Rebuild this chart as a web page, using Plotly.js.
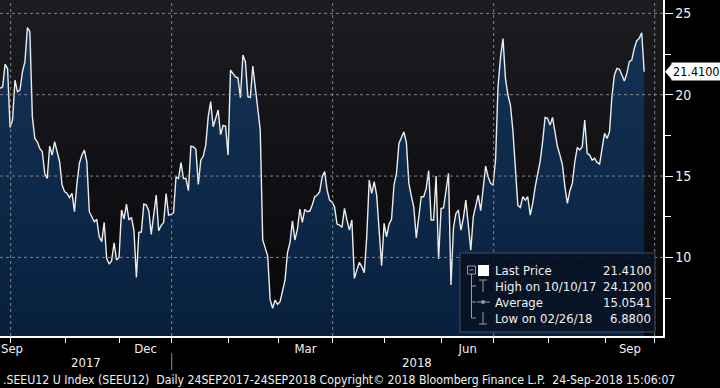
<!DOCTYPE html>
<html><head><meta charset="utf-8">
<script src="https://cdn.plot.ly/plotly-3.0.1.min.js"></script>
<style>html,body{margin:0;padding:0;background:#000;overflow:hidden}#chart{width:720px;height:388px}</style>
</head><body><div id="chart"></div>
<script>
// ---- data (trading days, weekday calendar) ----
const dates = [
'2017-09-25','2017-09-26','2017-09-27','2017-09-28','2017-09-29',
'2017-10-02','2017-10-03','2017-10-04','2017-10-05','2017-10-06',
'2017-10-09','2017-10-10','2017-10-11','2017-10-12','2017-10-13',
'2017-10-16','2017-10-17','2017-10-18','2017-10-19','2017-10-20',
'2017-10-23','2017-10-24','2017-10-25','2017-10-26','2017-10-27',
'2017-10-30','2017-10-31','2017-11-01','2017-11-02','2017-11-03',
'2017-11-06','2017-11-07','2017-11-08','2017-11-09','2017-11-10',
'2017-11-13','2017-11-14','2017-11-15','2017-11-16','2017-11-17',
'2017-11-20','2017-11-21','2017-11-22','2017-11-23','2017-11-24',
'2017-11-27','2017-11-28','2017-11-29','2017-11-30','2017-12-01',
'2017-12-04','2017-12-05','2017-12-06','2017-12-07','2017-12-08',
'2017-12-11','2017-12-12','2017-12-13','2017-12-14','2017-12-15',
'2017-12-18','2017-12-19','2017-12-20','2017-12-21','2017-12-22',
'2017-12-25','2017-12-26','2017-12-27','2017-12-28','2017-12-29',
'2018-01-01','2018-01-02','2018-01-03','2018-01-04','2018-01-05',
'2018-01-08','2018-01-09','2018-01-10','2018-01-11','2018-01-12',
'2018-01-15','2018-01-16','2018-01-17','2018-01-18','2018-01-19',
'2018-01-22','2018-01-23','2018-01-24','2018-01-25','2018-01-26',
'2018-01-29','2018-01-30','2018-01-31','2018-02-01','2018-02-02',
'2018-02-05','2018-02-06','2018-02-07','2018-02-08','2018-02-09',
'2018-02-12','2018-02-13','2018-02-14','2018-02-15','2018-02-16',
'2018-02-19','2018-02-20','2018-02-21','2018-02-22','2018-02-23',
'2018-02-26','2018-02-27','2018-02-28','2018-03-01','2018-03-02',
'2018-03-05','2018-03-06','2018-03-07','2018-03-08','2018-03-09',
'2018-03-12','2018-03-13','2018-03-14','2018-03-15','2018-03-16',
'2018-03-19','2018-03-20','2018-03-21','2018-03-22','2018-03-23',
'2018-03-26','2018-03-27','2018-03-28','2018-03-29','2018-03-30',
'2018-04-02','2018-04-03','2018-04-04','2018-04-05','2018-04-06',
'2018-04-09','2018-04-10','2018-04-11','2018-04-12','2018-04-13',
'2018-04-16','2018-04-17','2018-04-18','2018-04-19','2018-04-20',
'2018-04-23','2018-04-24','2018-04-25','2018-04-26','2018-04-27',
'2018-04-30','2018-05-01','2018-05-02','2018-05-03','2018-05-04',
'2018-05-07','2018-05-08','2018-05-09','2018-05-10','2018-05-11',
'2018-05-14','2018-05-15','2018-05-16','2018-05-17','2018-05-18',
'2018-05-21','2018-05-22','2018-05-23','2018-05-24','2018-05-25',
'2018-05-28','2018-05-29','2018-05-30','2018-05-31','2018-06-01',
'2018-06-04','2018-06-05','2018-06-06','2018-06-07','2018-06-08',
'2018-06-11','2018-06-12','2018-06-13','2018-06-14','2018-06-15',
'2018-06-18','2018-06-19','2018-06-20','2018-06-21','2018-06-22',
'2018-06-25','2018-06-26','2018-06-27','2018-06-28','2018-06-29',
'2018-07-02','2018-07-03','2018-07-04','2018-07-05','2018-07-06',
'2018-07-09','2018-07-10','2018-07-11','2018-07-12','2018-07-13',
'2018-07-16','2018-07-17','2018-07-18','2018-07-19','2018-07-20',
'2018-07-23','2018-07-24','2018-07-25','2018-07-26','2018-07-27',
'2018-07-30','2018-07-31','2018-08-01','2018-08-02','2018-08-03',
'2018-08-06','2018-08-07','2018-08-08','2018-08-09','2018-08-10',
'2018-08-13','2018-08-14','2018-08-15','2018-08-16','2018-08-17',
'2018-08-20','2018-08-21','2018-08-22','2018-08-23','2018-08-24',
'2018-08-27','2018-08-28','2018-08-29','2018-08-30','2018-08-31',
'2018-09-03','2018-09-04','2018-09-05','2018-09-06','2018-09-07',
'2018-09-10','2018-09-11','2018-09-12','2018-09-13','2018-09-14',
'2018-09-17','2018-09-18','2018-09-19','2018-09-20','2018-09-21',
'2018-09-24'
];
const prices = [
20.39,20.49,21.88,21.6,17.99,
18.44,20.9,20.18,20.29,21.41,
22.03,24.12,23.87,18.65,17.31,
17.11,16.7,16.5,15.16,14.86,
16.84,16.29,17.11,16.5,15.88,
14.45,14.04,13.93,13.67,13.93,
12.81,14.55,15.78,16.29,16.6,
15.88,12.81,12.5,12.19,12.34,
11.27,10.97,12.15,9.94,9.59,
9.8,10.9,9.84,10.0,12.91,
12.36,13.28,12.3,12.46,11.68,
8.77,11.54,11.56,13.28,13.22,
12.87,11.41,12.5,13.83,11.64,
11.97,12.15,13.93,12.6,12.64,
12.75,14.96,14.85,15.82,14.85,
14.85,14.1,16.84,16.8,16.64,
14.49,15.98,16.23,16.9,18.65,
19.57,18.03,18.5,19.06,17.55,
18.11,18.07,16.29,21.51,21.31,
21.1,21.04,19.81,22.44,22.03,
19.88,19.83,21.76,20.49,19.16,
17.83,11.07,10.5,10.1,7.4,
6.88,7.38,7.11,7.28,8.0,
8.6,10.3,10.9,12.25,11.07,
11.72,12.97,12.15,12.95,12.81,
12.85,13.22,13.73,13.83,14.04,
14.96,15.27,14.14,13.52,13.4,
13.11,12.05,11.99,11.85,13.01,
12.3,11.68,12.3,8.71,9.22,
9.69,9.43,9.06,11.27,14.75,
13.93,14.65,13.83,11.48,9.49,
12.09,11.27,12.05,12.34,14.45,
15.16,17.0,17.31,17.72,17.05,
14.55,13.77,13.07,11.2,12.3,
13.73,13.73,14.24,15.33,12.3,
12.3,15.0,9.9,13.0,13.05,
14.14,15.16,8.3,11.8,12.7,
12.91,11.68,12.4,13.52,12.09,
10.45,12.5,13.22,13.83,12.87,
14.34,15.61,14.96,14.55,14.45,
16.0,20.5,22.3,23.45,21.0,
19.98,19.36,17.8,15.78,13.2,
13.07,13.73,13.52,13.73,12.6,
13.32,14.34,15.16,15.9,17.11,
18.6,18.55,18.13,18.6,17.62,
16.8,16.29,15.68,14.34,13.32,
14.1,14.55,15.88,16.76,16.6,
16.8,18.44,16.39,16.29,15.98,
16.09,15.84,15.74,16.8,17.62,
17.31,17.72,19.92,21.21,21.62,
21.56,21.21,20.84,21.31,22.03,
22.13,22.85,23.32,23.46,23.81,
21.41
];
const yTicks = [10, 15, 20, 25];
const yMinorTicks = [7.5, 12.5, 17.5, 22.5];
const monthStarts = ['2017-10-02','2017-11-01','2017-12-01','2018-01-01','2018-02-01','2018-03-01','2018-04-02','2018-05-01','2018-06-01','2018-07-02','2018-08-01','2018-09-03','2018-10-01'];
const quarterStarts = ['2017-10-02','2018-01-01','2018-04-02','2018-07-02','2018-10-01'];
const monthLabelPos = ['2017-10-02 13:00','2017-12-15 12:00','2018-03-16','2018-06-15 12:00','2018-09-17'];
const monthLabels = ['Sep','Dec','Mar','Jun','Sep'];
const yearLabels = ['2017','2018'];
const yearBoundary = '2018-01-01';
const statLabels = ['Last Price','High on 10/10/17','Average','Low on 02/26/18'];
const statValues = [21.41, 24.12, 15.0541, 6.88];
const footer = '.SEEU12 U Index (SEEU12)\u00a0\u00a0Daily 24SEP2017-24SEP2018 Copyright\u00a9 2018 Bloomberg Finance L.P.\u00a0\u00a024-Sep-2018 15:06:07';

// ---- layout helpers (plot area is 663 x 336 px at top-left) ----
const PW = 663, PH = 336;
const px = x => x / PW;
const py = y => 1 - y / PH;
const F = 'DejaVu Sans Condensed, DejaVu Sans, sans-serif';
const TXT = '#f0f0f0';
const GRID = 'rgba(150,150,150,0.85)';
const ICON = '#9a9a9a';

const last = prices[prices.length - 1];

const trace = {
  x: dates.map(d => d + ' 18:00'),
  y: prices,
  type: 'scatter',
  mode: 'lines',
  line: {color: '#ececec', width: 1.4},
  fill: 'tozeroy',
  fillgradient: {type: 'vertical', colorscale: [[0, '#08203e'], [1, '#153457']], start: 5.17, stop: 25.8},
  hoverinfo: 'skip'
};

const shapes = [];
yTicks.forEach(v => shapes.push({type: 'line', xref: 'paper', x0: 0, x1: 1, yref: 'y', y0: v, y1: v,
  line: {color: GRID, width: 1, dash: '3px,3px'}, layer: 'above'}));
quarterStarts.forEach(q => shapes.push({type: 'line', xref: 'x', x0: q, x1: q, yref: 'paper', y0: 0, y1: 1,
  line: {color: GRID, width: 1, dash: '3px,3px'}, layer: 'above'}));
// legend panel
shapes.push({type: 'rect', xref: 'paper', yref: 'paper', x0: px(460), x1: px(655), y0: py(332), y1: py(253),
  fillcolor: 'rgba(8,19,34,0.9)', line: {color: 'rgba(80,92,108,0.8)', width: 1}, layer: 'above'});
// tree lines and icons
shapes.push({type: 'rect', xref: 'paper', yref: 'paper', x0: px(467.5), x1: px(475.5), y0: py(274), y1: py(266),
  line: {color: ICON, width: 1}, layer: 'above'});
shapes.push({type: 'line', xref: 'paper', yref: 'paper', x0: px(469.5), x1: px(473.5), y0: py(270), y1: py(270),
  line: {color: ICON, width: 1}, layer: 'above'});
shapes.push({type: 'line', xref: 'paper', yref: 'paper', x0: px(471.5), x1: px(471.5), y0: py(274), y1: py(318),
  line: {color: ICON, width: 1}, layer: 'above'});
[286, 302, 318].forEach(r => shapes.push({type: 'line', xref: 'paper', yref: 'paper', x0: px(471.5), x1: px(476), y0: py(r), y1: py(r),
  line: {color: ICON, width: 1}, layer: 'above'}));
shapes.push({type: 'rect', xref: 'paper', yref: 'paper', x0: px(478), x1: px(489), y0: py(276), y1: py(265),
  fillcolor: '#ffffff', line: {width: 0}, layer: 'above'});
// high icon
shapes.push({type: 'line', xref: 'paper', yref: 'paper', x0: px(479), x1: px(487), y0: py(280), y1: py(280), line: {color: ICON, width: 1}, layer: 'above'});
shapes.push({type: 'line', xref: 'paper', yref: 'paper', x0: px(483), x1: px(483), y0: py(280), y1: py(292), line: {color: ICON, width: 1}, layer: 'above'});
// average icon
shapes.push({type: 'line', xref: 'paper', yref: 'paper', x0: px(477), x1: px(490), y0: py(302), y1: py(302), line: {color: ICON, width: 1}, layer: 'above'});
shapes.push({type: 'circle', xref: 'paper', yref: 'paper', x0: px(481), x1: px(485), y0: py(304), y1: py(300), fillcolor: ICON, line: {width: 0}, layer: 'above'});
// low icon
shapes.push({type: 'line', xref: 'paper', yref: 'paper', x0: px(483), x1: px(483), y0: py(312), y1: py(324), line: {color: ICON, width: 1}, layer: 'above'});
shapes.push({type: 'line', xref: 'paper', yref: 'paper', x0: px(479), x1: px(487), y0: py(324), y1: py(324), line: {color: ICON, width: 1}, layer: 'above'});
// year separator
shapes.push({type: 'line', xref: 'x', x0: yearBoundary, x1: yearBoundary, yref: 'paper', y0: py(353), y1: py(370),
  line: {color: '#8a8a8a', width: 1}});
// last price pointer
const dv = 8 / 16.27;
shapes.push({type: 'path', xref: 'paper', yref: 'y',
  path: `M ${1 + 2 / PW} ${last} L ${1 + 9 / PW} ${last + dv} L ${1 + 9 / PW} ${last - dv} Z`,
  fillcolor: '#ffffff', line: {width: 0}});

const annotations = [];
annotations.push({xref: 'paper', x: 1, xshift: 8, xanchor: 'left', yref: 'y', y: last, yanchor: 'middle',
  text: last.toFixed(4), showarrow: false, bgcolor: '#ffffff', borderpad: 1,
  font: {family: F, size: 12.5, color: '#000000'}});
const rows = [270, 286, 302, 318];
statLabels.forEach((s, i) => {
  annotations.push({xref: 'paper', yref: 'paper', x: px(493), y: py(rows[i]), xanchor: 'left', yanchor: 'middle',
    text: s, showarrow: false, font: {family: F, size: 13, color: TXT}});
  annotations.push({xref: 'paper', yref: 'paper', x: px(653), y: py(rows[i]), xanchor: 'right', yanchor: 'middle',
    text: statValues[i].toFixed(4), showarrow: false, font: {family: F, size: 13, color: TXT}});
});
annotations.push({xref: 'paper', yref: 'paper', x: px(86), y: py(362), xanchor: 'center', yanchor: 'middle',
  text: yearLabels[0], showarrow: false, font: {family: F, size: 13, color: TXT}});
annotations.push({xref: 'paper', yref: 'paper', x: px(417), y: py(362), xanchor: 'center', yanchor: 'middle',
  text: yearLabels[1], showarrow: false, font: {family: F, size: 13, color: TXT}});
annotations.push({xref: 'paper', yref: 'paper', x: px(1), y: py(380), xanchor: 'left', yanchor: 'middle',
  text: footer, showarrow: false, font: {family: F, size: 12.2, color: TXT}});

const bg = "data:image/svg+xml;utf8," + encodeURIComponent(
  "<svg xmlns='http://www.w3.org/2000/svg' width='10' height='100' viewBox='0 0 10 100' preserveAspectRatio='none'>" +
  "<defs><linearGradient id='g' x1='0' y1='0' x2='0' y2='1'><stop offset='0' stop-color='#1d1d21'/><stop offset='1' stop-color='#060609'/></linearGradient></defs>" +
  "<rect width='10' height='100' fill='url(#g)'/></svg>");

const layout = {
  width: 720, height: 388,
  margin: {l: 0, r: 57, t: 0, b: 52, pad: 0},
  paper_bgcolor: '#000000',
  plot_bgcolor: 'rgba(0,0,0,0)',
  showlegend: false,
  hovermode: false,
  images: [{source: bg, xref: 'paper', yref: 'paper', x: 0, y: 1, sizex: 1, sizey: 1,
    sizing: 'stretch', xanchor: 'left', yanchor: 'top', layer: 'below'}],
  xaxis: {
    type: 'date',
    range: ['2017-09-25 16:28', '2018-10-04 08:24'],
    rangebreaks: [{bounds: ['sat', 'mon']}],
    tickmode: 'array', tickvals: monthLabelPos, ticktext: monthLabels,
    ticks: '', showgrid: false, zeroline: false,
    showline: true, linecolor: '#ffffff', linewidth: 1.5,
    tickfont: {family: F, size: 13, color: TXT},
    minor: {tickmode: 'array', tickvals: monthStarts, ticks: 'outside', ticklen: 5, tickwidth: 1, tickcolor: '#ffffff', showgrid: false},
    fixedrange: true
  },
  yaxis: {
    side: 'right',
    range: [5.17, 25.82],
    tickmode: 'array', tickvals: yTicks,
    ticks: 'outside', ticklen: 8, tickwidth: 1, tickcolor: '#ffffff',
    showgrid: false, zeroline: false,
    showline: true, linecolor: '#ffffff', linewidth: 1.5,
    tickfont: {family: F, size: 14, color: TXT},
    minor: {tickmode: 'array', tickvals: yMinorTicks, ticks: 'outside', ticklen: 6, tickwidth: 1, tickcolor: '#ffffff', showgrid: false},
    fixedrange: true
  },
  shapes: shapes,
  annotations: annotations
};

Plotly.newPlot('chart', [trace], layout, {displayModeBar: false, staticPlot: true});
</script>
</body></html>
